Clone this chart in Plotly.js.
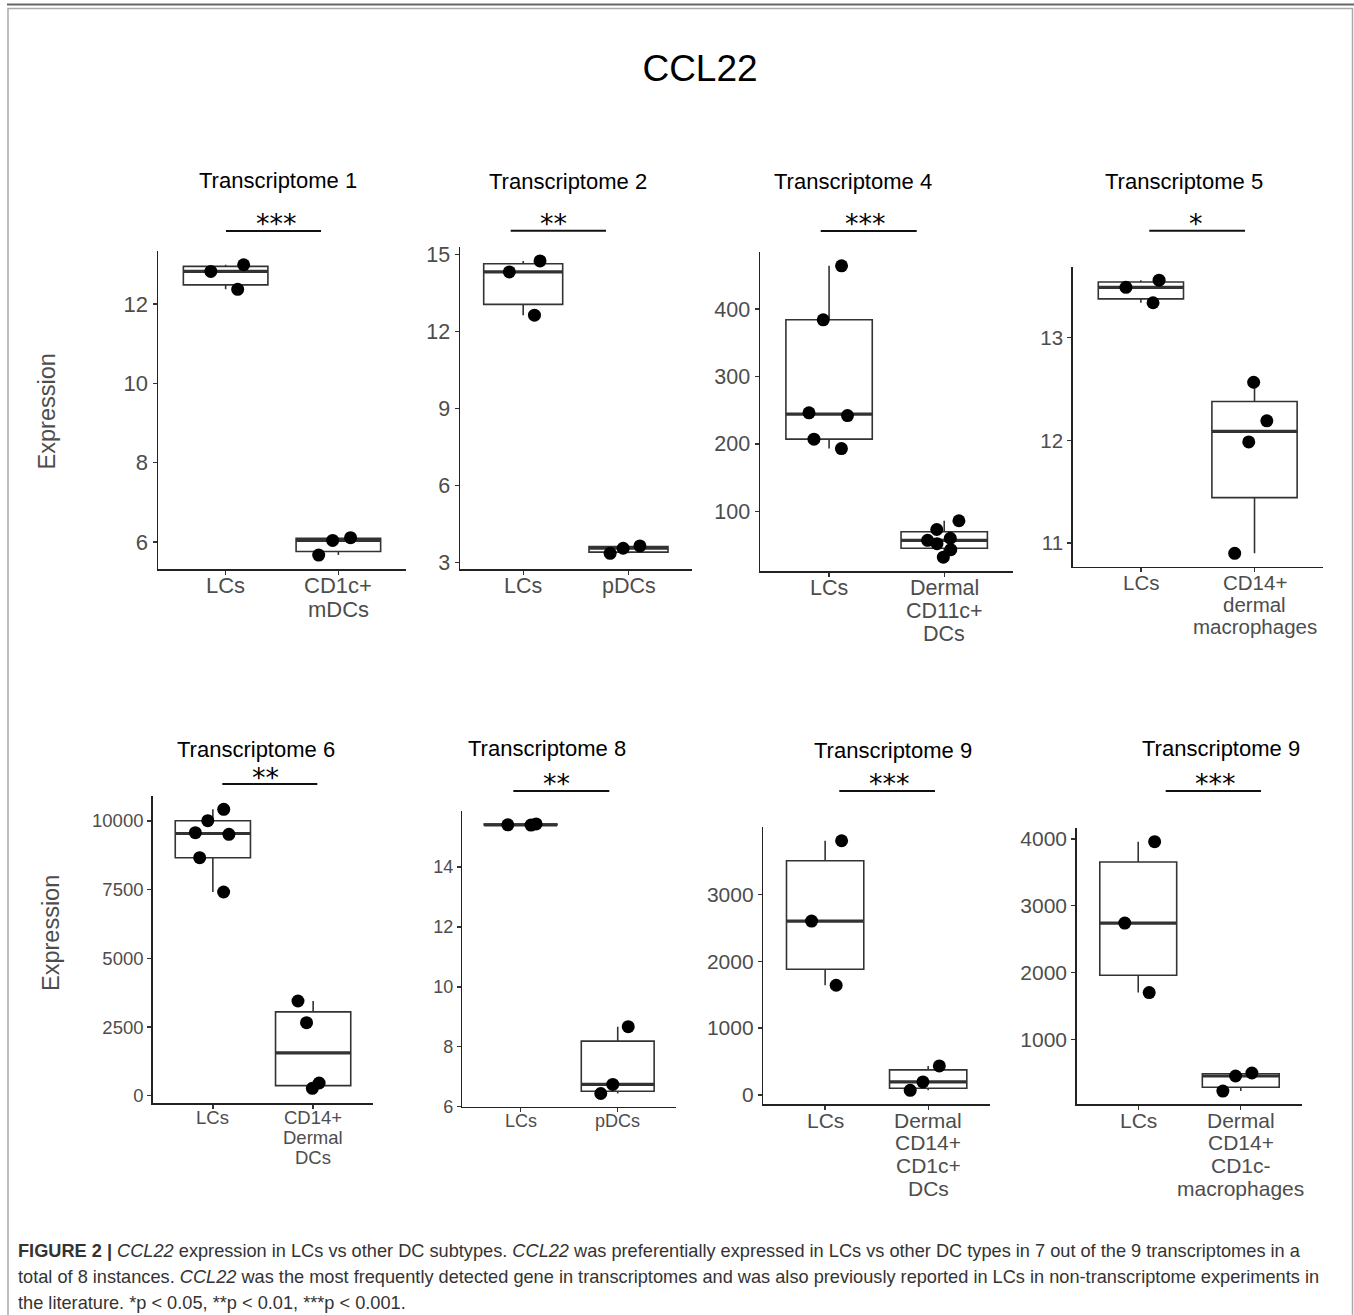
<!DOCTYPE html>
<html>
<head>
<meta charset="utf-8">
<script src="https://cdn.plot.ly/plotly-3.0.1.min.js"></script>
<style>html,body{margin:0;padding:0;background:#fff;}#chart{width:1354px;height:1315px;}</style>
</head>
<body>
<div id="chart"></div>
<script>
// ---------------- data ----------------
const figureTitle = "CCL22";
const panelTitles = ["Transcriptome 1", "Transcriptome 2", "Transcriptome 4", "Transcriptome 5",
                     "Transcriptome 6", "Transcriptome 8", "Transcriptome 9", "Transcriptome 9"];
const refLabel = "LCs";
const otherLabels = ["CD1c+<br>mDCs", "pDCs", "Dermal<br>CD11c+<br>DCs", "CD14+<br>dermal<br>macrophages",
                     "CD14+<br>Dermal<br>DCs", "pDCs", "Dermal<br>CD14+<br>CD1c+<br>DCs",
                     "Dermal<br>CD14+<br>CD1c-<br>macrophages"];
const significance = ["***", "**", "***", "*", "**", "**", "***", "***"];

const lcT1 = [12.37, 12.82, 12.99];
const otherT1 = [5.67, 6.04, 6.11];
const lcT2 = [12.63, 14.31, 14.74];
const otherT2 = [3.36, 3.56, 3.65];
const lcT4 = [193, 207, 242, 246, 384, 464];
const otherT4 = [32, 43, 52, 57, 60, 73, 86];
const lcT5 = [13.34, 13.49, 13.56];
const otherT5 = [10.90, 11.985, 12.19, 12.566];
const lcT6 = [7415, 8664, 9515, 9574, 10011, 10426];
const otherT6 = [269, 462, 2657, 3447];
const lcT8 = [15.40, 15.41, 15.44];
const otherT8 = [6.44, 6.745, 8.67];
const lcT9a = [1640, 2600, 3800];
const otherT9a = [70, 195, 435];
const lcT9b = [1700, 2740, 3960];
const otherT9b = [225, 450, 495];

const tickT1 = [6, 8, 10, 12];
const tickT2 = [3, 6, 9, 12, 15];
const tickT4 = [100, 200, 300, 400];
const tickT5 = [11, 12, 13];
const tickT6 = [0, 2500, 5000, 7500, 10000];
const tickT8 = [6, 8, 10, 12, 14];
const tickT9a = [0, 1000, 2000, 3000];
const tickT9b = [1000, 2000, 3000, 4000];

const yAxisLabel = "Expression";
const captionLines = [
  "<b>FIGURE 2 |</b> <i>CCL22</i> expression in LCs vs other DC subtypes. <i>CCL22</i> was preferentially expressed in LCs vs other DC types in 7 out of the 9 transcriptomes in a",
  "total of 8 instances. <i>CCL22</i> was the most frequently detected gene in transcriptomes and was also previously reported in LCs in non-transcriptome experiments in",
  "the literature. *p &lt; 0.05, **p &lt; 0.01, ***p &lt; 0.001."
];

const lcSets = [lcT1, lcT2, lcT4, lcT5, lcT6, lcT8, lcT9a, lcT9b];
const otherSets = [otherT1, otherT2, otherT4, otherT5, otherT6, otherT8, otherT9a, otherT9b];
const tickSets = [tickT1, tickT2, tickT4, tickT5, tickT6, tickT8, tickT9a, tickT9b];

// median (same rule as the box statistics)
function median(arr) {
  const s = arr.slice().sort((a, b) => a - b);
  const n = s.length;
  return n % 2 ? s[(n - 1) / 2] : (s[n / 2 - 1] + s[n / 2]) / 2;
}

// ---------------- layout geometry (pixels) ----------------
const W = 1354, H = 1315;
const fx = p => p / W;
const fy = p => 1 - p / H;
const FONT = "Liberation Sans, Arial, Helvetica, sans-serif";

const geom = [
  {l: 158,    r: 406,    t: 251,   b: 569,    yr: [5.32, 13.336],  fs: 22},
  {l: 460,    r: 691.7,  t: 247.3, b: 569.3,  yr: [2.74, 15.27],   fs: 21.5},
  {l: 760,    r: 1013.3, t: 251.7, b: 571.3,  yr: [11, 485],       fs: 21.5},
  {l: 1072.7, r: 1322.7, t: 267.3, b: 566.7,  yr: [10.77, 13.685], fs: 20.5},
  {l: 152.7,  r: 373.3,  t: 796,   b: 1103.3, yr: [-277, 10910],   fs: 18.5},
  {l: 462.3,  r: 676,    t: 810.7, b: 1106.7, yr: [6.0, 15.88],    fs: 18},
  {l: 763.3,  r: 990,    t: 827.3, b: 1104,   yr: [-134.5, 4001],  fs: 21},
  {l: 1076.7, r: 1302.3, t: 828.3, b: 1104,   yr: [31, 4160],      fs: 21}
];
const deco = [
  {tx: 278.3,  ty: 180,   x0: 226,    x1: 321,    ly: 231,   sx: 276.7,  sy: 224},
  {tx: 567.5,  ty: 182,   x0: 510.7,  x1: 606,    ly: 230.7, sx: 553.7,  sy: 224},
  {tx: 853.3,  ty: 182,   x0: 820.7,  x1: 916.7,  ly: 231,   sx: 865.3,  sy: 224},
  {tx: 1183.8, ty: 182,   x0: 1149.3, x1: 1245,   ly: 230.7, sx: 1195.7, sy: 224},
  {tx: 255.8,  ty: 749,   x0: 222.3,  x1: 317.3,  ly: 784,   sx: 265,    sy: 777.5},
  {tx: 546.7,  ty: 748,   x0: 513.3,  x1: 609.3,  ly: 791,   sx: 556.8,  sy: 784},
  {tx: 892.5,  ty: 750,   x0: 839.3,  x1: 935,    ly: 791,   sx: 889.3,  sy: 784},
  {tx: 1220.8, ty: 748,   x0: 1165.7, x1: 1261,   ly: 791,   sx: 1215.7, sy: 784}
];

const traces = [];
const layout = {
  width: W, height: H,
  margin: {l: 0, r: 0, t: 0, b: 0},
  paper_bgcolor: "#fff", plot_bgcolor: "rgba(0,0,0,0)",
  showlegend: false,
  font: {family: FONT, color: "#4d4d4d"},
  title: {text: figureTitle, x: fx(700), y: fy(68), xanchor: "center", yanchor: "middle",
          font: {family: FONT, size: 37, color: "#000"}},
  annotations: [],
  shapes: []
};

for (let i = 0; i < 8; i++) {
  const sfx = i === 0 ? "" : String(i + 1);
  const lc = lcSets[i], ot = otherSets[i];
  const cats = [refLabel, otherLabels[i]];
  const meds = [median(lc), median(ot)];
  // thick median bars (ggplot style), drawn underneath the boxes and points
  traces.push({
    type: "box",
    x: cats, q1: meds, median: meds, q3: meds, lowerfence: meds, upperfence: meds,
    xaxis: "x" + sfx, yaxis: "y" + sfx,
    width: 0.75, boxpoints: false,
    fillcolor: "rgba(255,255,255,0)",
    line: {color: "#333", width: 3.2},
    whiskerwidth: 0, hoverinfo: "skip"
  });
  traces.push({
    type: "box",
    x: lc.map(() => refLabel).concat(ot.map(() => otherLabels[i])),
    y: lc.concat(ot),
    xaxis: "x" + sfx, yaxis: "y" + sfx,
    width: 0.75,
    boxpoints: "all", jitter: 0.55, pointpos: 0,
    fillcolor: "rgba(255,255,255,0)",
    line: {color: "#333", width: 1.6},
    marker: {color: "#000", size: 13, line: {width: 0}},
    quartilemethod: "linear",
    whiskerwidth: 0,
    hoverinfo: "y"
  });
  const g = geom[i];
  layout["xaxis" + sfx] = {
    domain: [fx(g.l), fx(g.r)], anchor: "y" + sfx,
    type: "category", categoryorder: "array", categoryarray: cats,
    range: [-0.6, 1.6], fixedrange: true,
    showline: true, linecolor: "#222", linewidth: 1.5,
    ticks: "outside", ticklen: 4, tickwidth: 1.3, tickcolor: "#333",
    showticklabels: false,
    showgrid: false, zeroline: false
  };
  layout["yaxis" + sfx] = {
    domain: [fy(g.b), fy(g.t)], anchor: "x" + sfx,
    range: g.yr, fixedrange: true,
    tickmode: "array", tickvals: tickSets[i], ticktext: tickSets[i].map(v => String(v)),
    showline: true, linecolor: "#222", linewidth: 1.5,
    ticks: "outside", ticklen: 4, tickwidth: 1.3, tickcolor: "#333",
    showgrid: false, zeroline: false,
    tickfont: {family: FONT, size: g.fs, color: "#4d4d4d"}
  };
  // category labels, one line per annotation for tight line spacing
  cats.forEach(c => {
    c.split("<br>").forEach((line, k) => {
      layout.annotations.push({
        text: line, xref: "x" + sfx, yref: "paper", x: c,
        y: fy(g.b + 0.72 * g.fs + 1 + k * 1.08 * g.fs),
        xanchor: "center", yanchor: "middle", showarrow: false,
        font: {family: FONT, size: g.fs, color: "#4d4d4d"}
      });
    });
  });
  const d = deco[i];
  layout.annotations.push({
    text: panelTitles[i], xref: "paper", yref: "paper", x: fx(d.tx), y: fy(d.ty),
    xanchor: "center", yanchor: "middle", showarrow: false,
    font: {family: FONT, size: 22, color: "#000"}
  });
  layout.annotations.push({
    text: significance[i], xref: "paper", yref: "paper", x: fx(d.sx), y: fy(d.sy),
    xanchor: "center", yanchor: "middle", showarrow: false,
    font: {family: "DejaVu Sans, sans-serif", size: 27, color: "#000"}
  });
  layout.shapes.push({
    type: "line", xref: "paper", yref: "paper",
    x0: fx(d.x0), x1: fx(d.x1), y0: fy(d.ly), y1: fy(d.ly),
    line: {color: "#111", width: 2}
  });
}

// y-axis titles
[[46.7, 411.7], [51.7, 933.3]].forEach(p => {
  layout.annotations.push({
    text: yAxisLabel, xref: "paper", yref: "paper", x: fx(p[0]), y: fy(p[1]),
    xanchor: "center", yanchor: "middle", textangle: -90, showarrow: false,
    font: {family: FONT, size: 23.5, color: "#4d4d4d"}
  });
});

// caption
const capY = [1251, 1277, 1303];
captionLines.forEach((t, k) => {
  layout.annotations.push({
    text: t, xref: "paper", yref: "paper", x: fx(16), y: fy(capY[k]),
    xanchor: "left", yanchor: "middle", align: "left", showarrow: false,
    font: {family: FONT, size: 18.2, color: "#333"}
  });
});

// page frame
layout.shapes.push({type: "line", xref: "paper", yref: "paper", x0: fx(7), x1: 1, y0: fy(4.5), y1: fy(4.5),
                    line: {color: "#666", width: 2}});
layout.shapes.push({type: "rect", xref: "paper", yref: "paper", x0: fx(8), x1: fx(1352.5), y0: fy(1330), y1: fy(8.5),
                    line: {color: "#aaa", width: 1.5}, fillcolor: "rgba(0,0,0,0)"});

Plotly.newPlot("chart", traces, layout, {staticPlot: true, displayModeBar: false});
</script>
</body>
</html>
